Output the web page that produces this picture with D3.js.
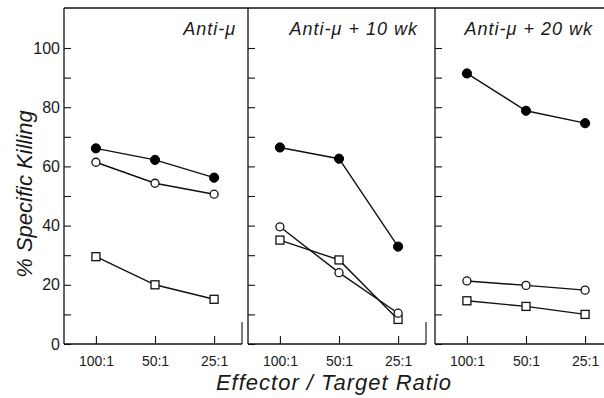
<!DOCTYPE html>
<html>
<head>
<meta charset="utf-8">
<script src="https://cdn.jsdelivr.net/npm/d3@7"></script>
<style>
  html, body { margin: 0; padding: 0; background: #fff; }
  svg { display: block; }
  text { font-family: "Liberation Sans", Arial, sans-serif; fill: #1a1a1a; }
</style>
</head>
<body>
<svg id="chart" width="604" height="398"></svg>
<script>
// ---- data ----
const ratios = ["100:1", "50:1", "25:1"];
const panelTitles = ["Anti-\u03BC", "Anti-\u03BC + 10 wk", "Anti-\u03BC + 20 wk"];
const filledCircle = [[66.1, 62.2, 56.2], [66.4, 62.6, 32.9], [91.4, 78.8, 74.6]];
const openCircle   = [[61.4, 54.3, 50.6], [39.6, 24.1, 10.4], [21.3, 19.8, 18.2]];
const openSquare   = [[29.5, 20.0, 15.1], [35.1, 28.4, 8.3], [14.6, 12.7, 10.0]];
const yTicks = [0, 10, 20, 30, 40, 50, 60, 70, 80, 90, 100];
const yTickLabels = [0, 20, 40, 60, 80, 100];
const yTitle = "% Specific Killing";
const xTitle = "Effector / Target Ratio";

// ---- layout ----
const svg = d3.select("#chart");
const plotTop = 8, plotBottom = 344;
const panelLefts = [64, 248, 435];
const panelW = 182;
const axisLen = 178;
const titleEnds = [172, 170, 158];

const y = d3.scaleLinear().domain([0, 100]).range([plotBottom, 48]);

svg.append("rect").attr("width", 604).attr("height", 398).attr("fill", "#fff");

// top border line
svg.append("line")
  .attr("x1", panelLefts[0]).attr("x2", 604)
  .attr("y1", plotTop).attr("y2", plotTop)
  .attr("stroke", "#111").attr("stroke-width", 1.3);

panelLefts.forEach((left, i) => {
  const g = svg.append("g").attr("transform", `translate(${left},0)`);
  const x = d3.scalePoint().domain(ratios).range([0, panelW]).padding(0.54);

  // y axis
  const yAxis = d3.axisLeft(y)
    .tickValues(yTicks)
    .tickSizeInner(-7).tickSizeOuter(0).tickPadding(4)
    .tickFormat(d => (i === 0 && yTickLabels.includes(d)) ? d : "");
  const ya = g.append("g").call(yAxis);
  ya.select(".domain").remove();
  ya.selectAll(".tick line").attr("stroke", "#111").attr("stroke-width", 1.1);
  ya.selectAll(".tick text").attr("font-size", 16).attr("fill", "#1a1a1a")
    .attr("font-family", "Liberation Sans, Arial, sans-serif");
  g.append("line").attr("x1", 0).attr("x2", 0).attr("y1", plotTop).attr("y2", plotBottom)
    .attr("stroke", "#111").attr("stroke-width", 1.3);

  // x axis
  const xAxis = d3.axisBottom(x).tickSizeInner(-8).tickSizeOuter(0).tickPadding(12);
  const xa = g.append("g").attr("transform", `translate(0,${plotBottom})`).call(xAxis);
  xa.select(".domain").remove();
  xa.selectAll(".tick line").attr("stroke", "#111").attr("stroke-width", 1.1);
  xa.selectAll(".tick text").attr("font-size", 14).attr("fill", "#1a1a1a")
    .attr("font-family", "Liberation Sans, Arial, sans-serif");
  g.append("line").attr("x1", 0).attr("x2", axisLen).attr("y1", plotBottom).attr("y2", plotBottom)
    .attr("stroke", "#111").attr("stroke-width", 1.3);
  if (i < 2) {
    g.append("line").attr("x1", axisLen).attr("x2", axisLen).attr("y1", plotBottom).attr("y2", plotBottom - 22)
      .attr("stroke", "#111").attr("stroke-width", 1.1);
  }

  // title
  g.append("text")
    .attr("x", titleEnds[i]).attr("y", 35)
    .attr("text-anchor", "end")
    .attr("font-size", 18).attr("font-style", "italic")
    .attr("letter-spacing", 1)
    .text(panelTitles[i]);

  const line = d3.line().x((d, j) => x(ratios[j])).y(d => y(d));
  const series = [openSquare[i], openCircle[i], filledCircle[i]];
  series.forEach(s => {
    g.append("path").attr("d", line(s)).attr("fill", "none")
      .attr("stroke", "#111").attr("stroke-width", 1.4);
  });

  // squares
  g.selectAll(".sq").data(openSquare[i]).enter().append("rect")
    .attr("x", (d, j) => x(ratios[j]) - 4).attr("y", d => y(d) - 4)
    .attr("width", 8).attr("height", 8)
    .attr("fill", "#fff").attr("stroke", "#111").attr("stroke-width", 1.3);
  // open circles
  g.selectAll(".oc").data(openCircle[i]).enter().append("circle")
    .attr("cx", (d, j) => x(ratios[j])).attr("cy", d => y(d)).attr("r", 4)
    .attr("fill", "#fff").attr("stroke", "#111").attr("stroke-width", 1.3);
  // filled circles
  g.selectAll(".fc").data(filledCircle[i]).enter().append("circle")
    .attr("cx", (d, j) => x(ratios[j])).attr("cy", d => y(d)).attr("r", 4.6)
    .attr("fill", "#000").attr("stroke", "#000");
});

// axis titles
svg.append("text")
  .attr("transform", "translate(32,194) rotate(-90)")
  .attr("text-anchor", "middle")
  .attr("font-size", 22).attr("font-style", "italic")
  .text(yTitle);

svg.append("text")
  .attr("x", 334).attr("y", 390)
  .attr("text-anchor", "middle")
  .attr("font-size", 22).attr("font-style", "italic")
  .attr("letter-spacing", 1)
  .text(xTitle);
</script>
</body>
</html>
